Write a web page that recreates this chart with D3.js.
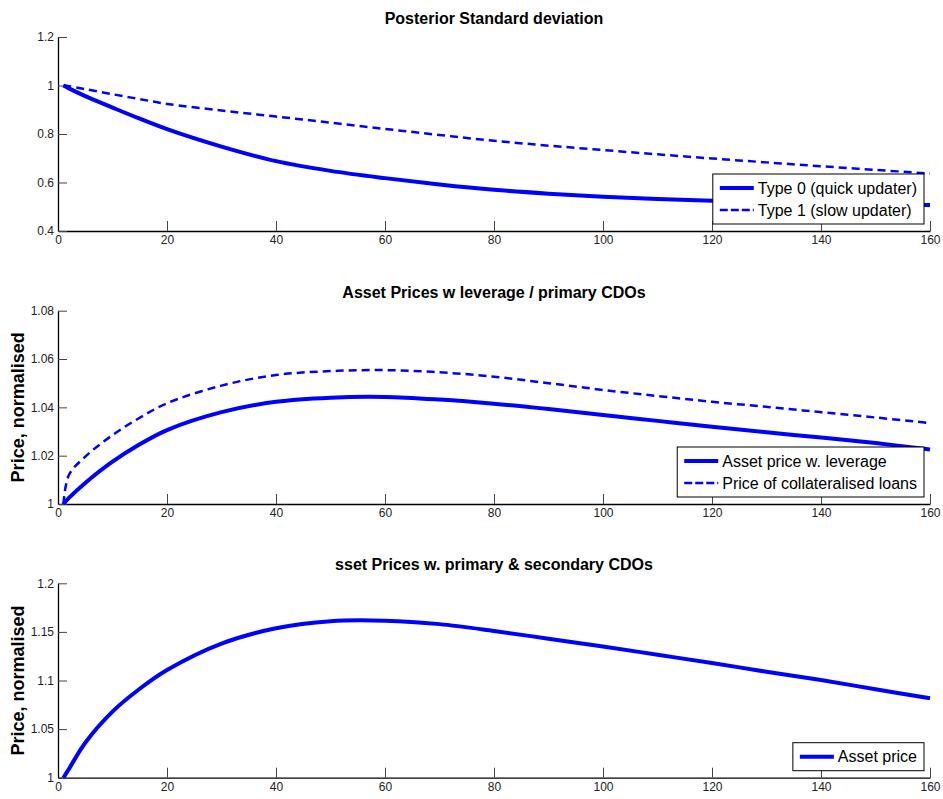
<!DOCTYPE html>
<html>
<head>
<meta charset="utf-8">
<script src="https://cdn.jsdelivr.net/npm/d3@7"></script>
<style>
  body { margin: 0; background: #fff; }
  text { font-family: "Liberation Sans", Arial, sans-serif; }
  .tick text { font-size: 12px; fill: #222; }
</style>
</head>
<body>
<div id="chart"></div>
<script>
// time steps shared by every series
var steps = [1, 2, 5, 10, 15, 20, 30, 40, 50, 60, 70, 80, 90, 100, 110, 120, 130, 140, 150, 160];

var sdType0 = [1.0, 0.988, 0.956, 0.909, 0.863, 0.820, 0.748, 0.688, 0.648, 0.618, 0.592, 0.570, 0.554, 0.541, 0.532, 0.525, 0.519, 0.514, 0.510, 0.507];
var sdType1 = [1.0, 0.997, 0.985, 0.964, 0.944, 0.924, 0.897, 0.872, 0.847, 0.821, 0.796, 0.772, 0.752, 0.734, 0.716, 0.699, 0.683, 0.667, 0.652, 0.637];

var priceLev = [1.0, 1.0025, 1.0087, 1.0175, 1.0247, 1.0306, 1.0380, 1.0423, 1.0440, 1.0443, 1.0432, 1.0415, 1.0393, 1.0368, 1.0344, 1.0320, 1.0297, 1.0275, 1.0252, 1.0226];
var priceLoans = [1.0, 1.012, 1.0196, 1.0285, 1.0357, 1.0417, 1.0490, 1.0534, 1.0550, 1.0554, 1.0545, 1.0527, 1.0500, 1.0472, 1.0447, 1.0423, 1.0402, 1.0380, 1.0358, 1.0335];

var priceSec = [1.0, 1.009, 1.036, 1.068, 1.0915, 1.1108, 1.138, 1.1537, 1.161, 1.1615, 1.158, 1.151, 1.143, 1.135, 1.1265, 1.118, 1.109, 1.1005, 1.091, 1.0817];

var xTicks = [0, 20, 40, 60, 80, 100, 120, 140, 160];
var yTicksTop = [0.4, 0.6, 0.8, 1, 1.2];
var yTicksMid = [1, 1.02, 1.04, 1.06, 1.08];
var yTicksBot = [1, 1.05, 1.1, 1.15, 1.2];

var titles = ["Posterior Standard deviation", "Asset Prices w leverage / primary CDOs", "sset Prices w. primary & secondary CDOs"];
var yLabel = "Price, normalised";

var svgWidth = 943, svgHeight = 799;
var left = 58, right = 930;

var svg = d3.select("#chart").append("svg")
  .attr("width", svgWidth)
  .attr("height", svgHeight);

function drawPanel(p) {
  var x = d3.scaleLinear().domain([0, 160]).range([left, right]);
  var y = d3.scaleLinear().domain(p.yDomain).range([p.bottom, p.top]);

  var g = svg.append("g");

  // axes (ticks point inward like matlab)
  var xAxis = d3.axisBottom(x).tickValues(xTicks).tickSizeInner(-10).tickSizeOuter(0).tickPadding(4);
  var gx = g.append("g").attr("transform", `translate(0,${p.bottom})`).call(xAxis);
  gx.selectAll(".tick line").attr("stroke", "#444");
  gx.selectAll(".tick text").attr("dy", "1em").attr("y", 1);

  var yAxis = d3.axisLeft(y).tickValues(p.yTicks).tickSizeInner(-9).tickSizeOuter(0).tickPadding(5)
    .tickFormat(d3.format("~g"));
  var gy = g.append("g").attr("transform", `translate(${left},0)`).call(yAxis);
  gy.selectAll(".tick line").attr("stroke", "#444");
  gy.selectAll(".tick text").attr("x", -4);
  gx.select(".domain").attr("stroke", "#000").attr("stroke-width", 1.3);
  gy.select(".domain").attr("stroke", "#000").attr("stroke-width", 1.3);

  var line = d3.line()
    .x((d, i) => x(steps[i]))
    .y(d => y(d))
    .curve(d3.curveCatmullRom.alpha(0.5));

  p.series.forEach(function(s) {
    g.append("path")
      .datum(s.values)
      .attr("d", line)
      .attr("fill", "none")
      .attr("stroke", "#0000ff")
      .attr("stroke-width", s.dashed ? 2.5 : 4)
      .attr("stroke-dasharray", s.dashed ? "8,5" : null);
  });

  g.append("text")
    .attr("x", (left + right) / 2)
    .attr("y", p.top - 13)
    .attr("text-anchor", "middle")
    .style("font-size", "16px")
    .style("font-weight", "bold")
    .text(p.title);

  if (p.ylabel) {
    g.append("text")
      .attr("transform", `translate(24,${(p.top + p.bottom) / 2}) rotate(-90)`)
      .attr("text-anchor", "middle")
      .style("font-size", "18px")
      .style("font-weight", "bold")
      .text(p.ylabel);
  }

  // legend box in the lower right corner
  var lg = g.append("g");
  var rowH = 22, legRight = 924;
  var texts = [];
  p.series.forEach(function(s, i) {
    var t = lg.append("text")
      .attr("y", i * rowH)
      .attr("dy", "0.35em")
      .style("font-size", "16px")
      .text(s.name);
    texts.push(t);
  });
  var tw = d3.max(texts, t => t.node().getComputedTextLength());
  var boxW = 7 + 34 + 4 + tw + 7;
  var boxH = p.series.length * rowH + 6;
  var bx = legRight - boxW, by = p.bottom - 7 - boxH;
  lg.insert("rect", "text")
    .attr("x", bx).attr("y", by)
    .attr("width", boxW).attr("height", boxH)
    .attr("fill", "#fff").attr("stroke", "#000").attr("stroke-width", 1);
  p.series.forEach(function(s, i) {
    var cy = by + 3 + rowH / 2 + i * rowH;
    lg.append("line")
      .attr("x1", bx + 7).attr("x2", bx + 41)
      .attr("y1", cy).attr("y2", cy)
      .attr("stroke", "#0000ff")
      .attr("stroke-width", s.dashed ? 2.5 : 4)
      .attr("stroke-dasharray", s.dashed ? "8,3" : null);
    texts[i].attr("x", bx + 45).attr("y", cy);
  });
}

drawPanel({
  top: 37, bottom: 231, yDomain: [0.4, 1.2], yTicks: yTicksTop, title: titles[0],
  series: [
    {name: "Type 0 (quick updater)", values: sdType0, dashed: false},
    {name: "Type 1 (slow updater)", values: sdType1, dashed: true}
  ]
});

drawPanel({
  top: 310.7, bottom: 504, yDomain: [1, 1.08], yTicks: yTicksMid, title: titles[1], ylabel: yLabel,
  series: [
    {name: "Asset price w. leverage", values: priceLev, dashed: false},
    {name: "Price of collateralised loans", values: priceLoans, dashed: true}
  ]
});

drawPanel({
  top: 583.3, bottom: 777.7, yDomain: [1, 1.2], yTicks: yTicksBot, title: titles[2], ylabel: yLabel,
  series: [
    {name: "Asset price", values: priceSec, dashed: false}
  ]
});
</script>
</body>
</html>
